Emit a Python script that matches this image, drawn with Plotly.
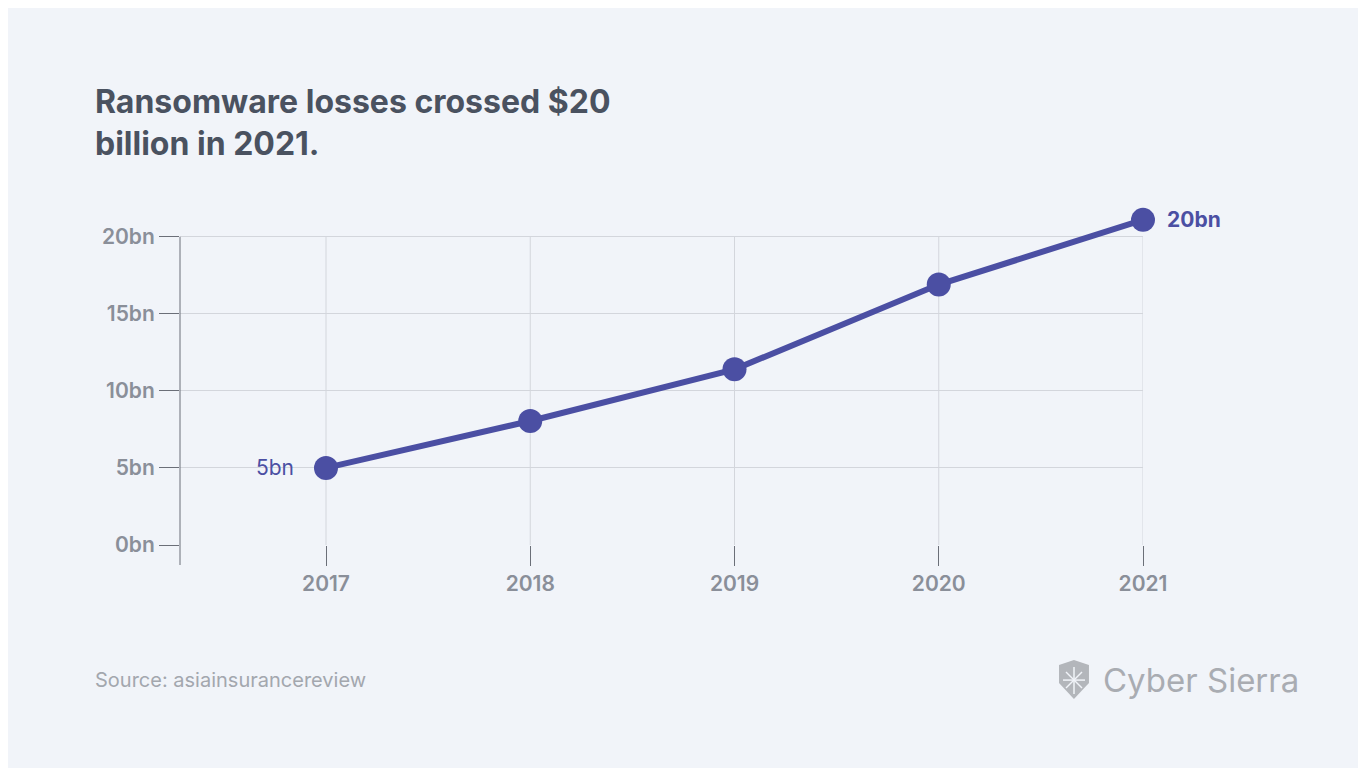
import plotly.graph_objects as go

years = [2017, 2018, 2019, 2020, 2021]
losses_bn = [5.0, 8.05, 11.4, 16.9, 21.1]
y_ticks = [0, 5, 10, 15, 20]
y_labels = ["0bn", "5bn", "10bn", "15bn", "20bn"]
end_labels = {2017: "5bn", 2021: "20bn"}

BG = "#f1f4f9"
PURPLE = "#4b4fa3"
GRID = "#d3d6dc"
TICK = "#8a8f99"

Y_TOP = 22
L, R, B = 172, 1135, 537
T = B - Y_TOP * 15.4
W, H = 1366, 768


def px(x, y):
    # pixel -> paper coordinates
    return (x - L) / (R - L), (B - y) / (B - T)


fig = go.Figure()
fig.add_trace(go.Scatter(
    x=years, y=losses_bn, mode="lines+markers",
    line=dict(color=PURPLE, width=6),
    marker=dict(color=PURPLE, size=24),
    cliponaxis=False, hoverinfo="skip",
))

fig.add_annotation(x=2017, y=losses_bn[0], text=end_labels[2017], showarrow=False,
                   xanchor="right", xshift=-30, font=dict(size=21, color=PURPLE))
fig.add_annotation(x=2021, y=losses_bn[-1], text="<b>" + end_labels[2021] + "</b>",
                   showarrow=False, xanchor="left", xshift=22,
                   font=dict(size=21, color=PURPLE))

# vertical gridlines only up to 20bn
for yr in years[:-1]:
    fig.add_shape(type="line", x0=yr, x1=yr, y0=0, y1=20, layer="below",
                  line=dict(color=GRID, width=1))
fig.add_shape(type="line", x0=2021, x1=2021, y0=0, y1=20, layer="below",
              line=dict(color=GRID, width=1))

# left axis line extending down past zero
x0, y0 = px(172, 229)
x1, y1 = px(172, 557)
fig.add_shape(type="line", xref="paper", yref="paper", x0=x0, y0=y0, x1=x1, y1=y1,
              line=dict(color="#6b6f78", width=1))

# title, source, logo
fig.add_annotation(xref="paper", yref="paper", x=px(85, 0)[0], y=px(0, 72)[1],
                   text="<b>Ransomware losses crossed $20<br>billion in 2021.</b>",
                   showarrow=False, xanchor="left", yanchor="top", align="left",
                   font=dict(size=32, color="#4a5260", family="Inter"))
fig.add_annotation(xref="paper", yref="paper", x=px(85, 0)[0], y=px(0, 672)[1],
                   text="Source: asiainsurancereview", showarrow=False,
                   xanchor="left", yanchor="middle",
                   font=dict(size=20, color="#a3a7ae", family="Inter"))
fig.add_annotation(xref="paper", yref="paper", x=px(1093, 0)[0], y=px(0, 672)[1],
                   text="Cyber Sierra", showarrow=False,
                   xanchor="left", yanchor="middle",
                   font=dict(size=33, color="#a9acb2", family="Inter"))

# shield icon
pts = [(1051, 657), (1066, 652), (1081, 657), (1081, 675), (1066, 691), (1051, 675)]
path = "M " + " L ".join(f"{px(a, b)[0]:.4f},{px(a, b)[1]:.4f}" for a, b in pts) + " Z"
fig.add_shape(type="path", xref="paper", yref="paper", path=path,
              fillcolor="#b3b6bb", line=dict(width=0))
for (a, b), (c, d) in [((1066, 659), (1066, 686)), ((1055, 672), (1077, 672)),
                       ((1058, 664), (1074, 680)), ((1074, 664), (1058, 680))]:
    p0, p1 = px(a, b), px(c, d)
    fig.add_shape(type="line", xref="paper", yref="paper", x0=p0[0], y0=p0[1],
                  x1=p1[0], y1=p1[1], line=dict(color=BG, width=1.5))

fig.update_layout(
    width=W, height=H, margin=dict(l=L, r=W - R, t=T, b=H - B, pad=0),
    paper_bgcolor=BG, plot_bgcolor=BG, showlegend=False,
    font=dict(family="Inter", color=TICK),
    xaxis=dict(range=[2017 - (318 - L) / 204.25, 2021],
               tickvals=years, ticks="outside", ticklen=20, tickcolor="#6b6f78",
               showgrid=False, zeroline=False, showline=False,
               tickfont=dict(size=21, color=TICK, weight=600)),
    yaxis=dict(range=[0, Y_TOP], tickvals=y_ticks, ticktext=y_labels,
               ticks="outside", ticklen=20, tickcolor="#6b6f78",
               showgrid=True, gridcolor=GRID, zeroline=False, showline=False,
               tickfont=dict(size=21, color=TICK, weight=600)),
)

fig.write_html("out.html")
